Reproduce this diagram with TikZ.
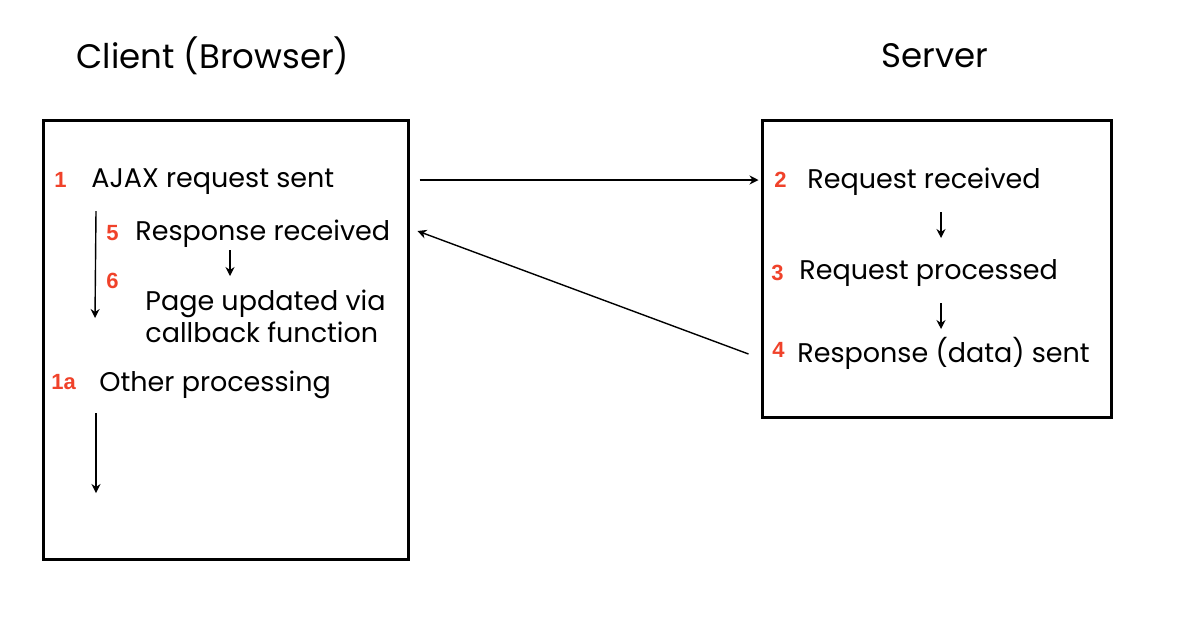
\documentclass[tikz,border=0pt]{standalone}
\usepackage{fontspec}
\setmainfont{Poppins}
\newfontfamily\numfont{Liberation Sans}
\usetikzlibrary{arrows.meta}
\definecolor{numred}{RGB}{240,66,42}

\begin{document}
\begin{tikzpicture}[x=0.5pt,y=-0.5pt,
    box/.style={draw,line width=1.5pt,inner sep=0pt},
    lbl/.style={anchor=west,inner sep=0pt,font=\fontsize{13.5}{16}\selectfont},
    num/.style={anchor=west,inner sep=0pt,text=numred,font=\numfont\bfseries\fontsize{11}{13}\selectfont},
    heading/.style={font=\fontsize{17}{21}\selectfont},
    flow/.style={-{Stealth[length=4.5pt,width=4.5pt]},line width=0.7pt}]
  \useasboundingbox (0,0) rectangle (1192,618);
  % boxes
  \node[box,minimum width=182.5pt,minimum height=219.5pt] (client) at (225.5,339.5) {};
  \node[box,minimum width=174.5pt,minimum height=148.5pt] (server) at (936.5,268.5) {};
  \node[heading] (clienttitle) at (213,56) {Client (Browser)};
  \node[heading] (servertitle) at (935,56) {Server};
  % client side
  \node[num] (n1) at (54,180) {1};
  \node[lbl] (ajax) at (91,182) {AJAX request sent};
  \node[num] (n5) at (106,233) {5};
  \node[lbl] (resp5) at (135,234) {Response received};
  \node[num] (n6) at (106,281) {6};
  \node[lbl,align=left] (page6) at (145,316) {Page updated via\\callback function};
  \node[num] (n1a) at (51,382) {1a};
  \node[lbl] (other) at (99,385) {Other processing};
  % server side
  \node[num] (n2) at (774,180) {2};
  \node[lbl] (req2) at (807,182) {Request received};
  \node[num] (n3) at (771,273) {3};
  \node[lbl] (req3) at (799,273) {Request processed};
  \node[num] (n4) at (772,350) {4};
  \node[lbl] (resp4) at (797,353) {Response (data) sent};
  % small arrows
  \coordinate (c5) at (230,250);
  \coordinate (c6) at (230,276);
  \coordinate (s2) at (941,212);
  \coordinate (s3) at (941,238);
  \coordinate (s4) at (941,303);
  \coordinate (s5) at (941,329);
  \coordinate (l1) at (96,211);
  \coordinate (l2) at (95,318);
  \coordinate (l3) at (96,413);
  \coordinate (l4) at (96,493);
  \draw[flow] (c5) -- (c6);
  \draw[flow] (s2) -- (s3);
  \draw[flow] (s4) -- (s5);
  \draw[flow] (l1) -- (l2);
  \draw[flow] (l3) -- (l4);
  % between the boxes
  \draw[flow] ([xshift=5pt]client.east |- n1) -- ([xshift=-1pt]server.west |- n2);
  \draw[flow] ([xshift=-6pt,yshift=-2pt]server.west |- n4) -- ([xshift=4pt,yshift=1pt]client.east |- n5);
\end{tikzpicture}
\end{document}
